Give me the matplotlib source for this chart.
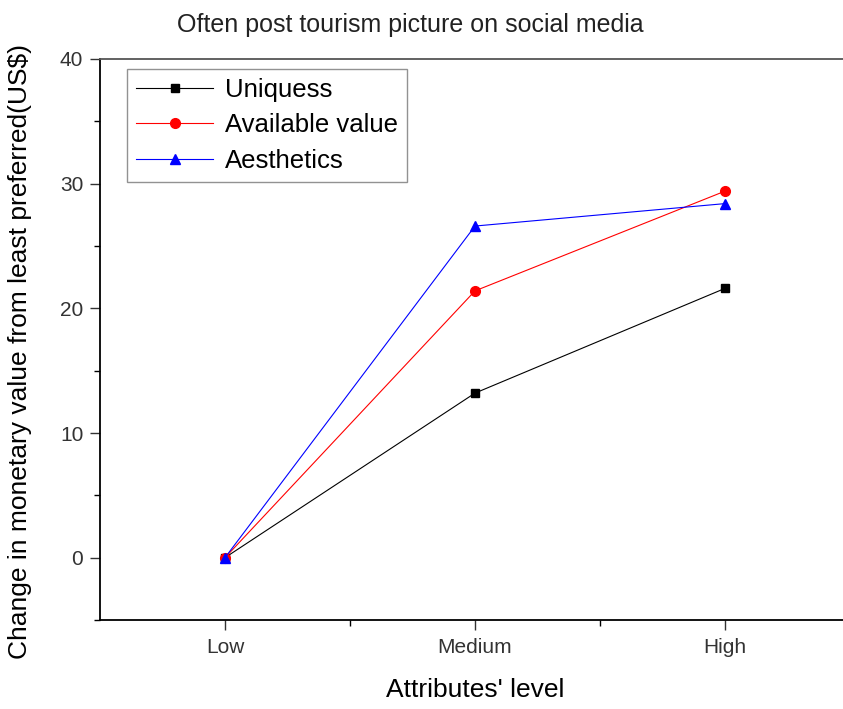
import matplotlib.pyplot as plt

plt.rcParams['font.family'] = ['Liberation Sans', 'DejaVu Sans']

levels = ['Low', 'Medium', 'High']
uniquess = [0, 13.2, 21.6]
available_value = [0, 21.4, 29.4]
aesthetics = [0, 26.6, 28.4]

fig = plt.figure(figsize=(8.43, 7.09), dpi=100)
ax = fig.add_axes([0.1186, 0.1255, 0.8897, 0.7913])

x = [1, 2, 3]
ax.plot(x, uniquess, color='black', lw=0.8, marker='s', ms=6, label='Uniquess')
ax.plot(x, available_value, color='red', lw=0.8, marker='o', ms=7, label='Available value')
ax.plot(x, aesthetics, color='blue', lw=0.8, marker='^', ms=7, label='Aesthetics')

ax.set_xlim(0.5, 3.5)
ax.set_ylim(-5, 40)
ax.set_xticks(x)
ax.set_xticklabels(levels)
ax.set_xticks([1.5, 2.5], minor=True)
ax.set_yticks([0, 10, 20, 30, 40])
ax.set_yticks([-5, 5, 15, 25, 35], minor=True)
ax.tick_params(axis='both', which='major', direction='out', length=7, width=1,
               labelsize=15, colors='#333333', pad=5)
ax.tick_params(axis='both', which='minor', direction='out', length=4, width=1)
ax.tick_params(axis='x', which='major', pad=6)
for s in ax.spines.values():
    s.set_linewidth(1.3)
ax.spines['top'].set_color('#555555')

# axis labels
ax.set_xlabel("Attributes' level", fontsize=19)
ax.xaxis.set_label_coords(0.5, -0.125)
ax.xaxis.label.set_va('center')
ax.set_ylabel('Change in monetary value from least preferred(US$)', fontsize=19)
ax.yaxis.set_label_coords(-0.107, 0.478)
ax.yaxis.label.set_va('center')

fig.text(410 / 843, 1 - 25 / 709, 'Often post tourism picture on social media',
         fontsize=18, ha='center', va='center', color='#222222')

leg = ax.legend(loc='upper left', bbox_to_anchor=(0.036, 0.983), fontsize=18.5,
                handlelength=3.0, fancybox=False, edgecolor='#777777',
                borderpad=0.35, labelspacing=0.45, handletextpad=0.45,
                borderaxespad=0)
leg.get_frame().set_linewidth(1)

fig.savefig('out.png', dpi=100)
